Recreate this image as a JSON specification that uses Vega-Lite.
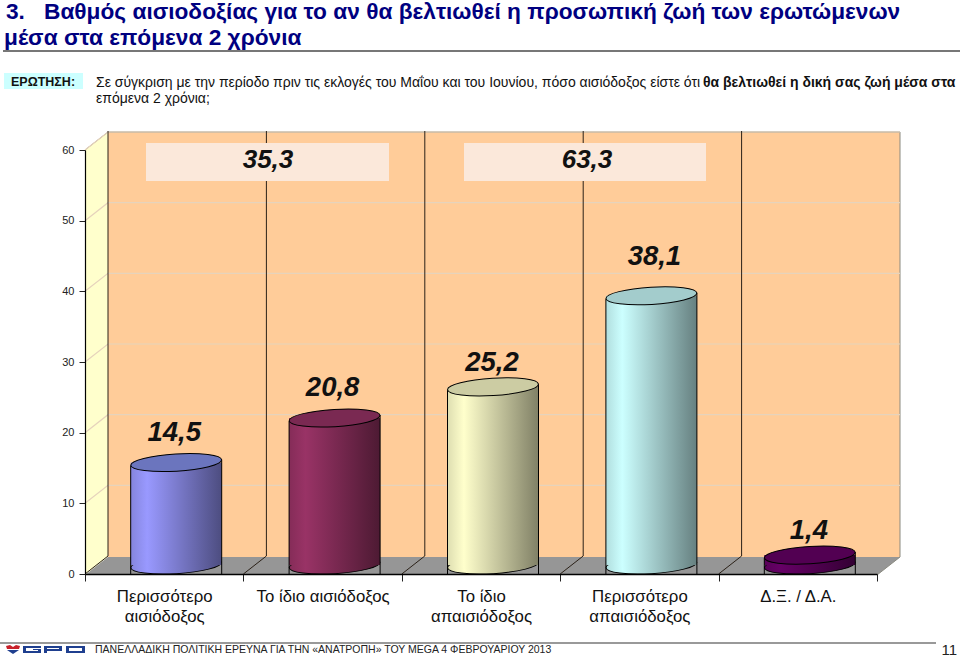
{
"$schema":"https://vega.github.io/schema/vega-lite/v6.json",
"width":792,"height":424,"autosize":"none",
"padding":{"left":85,"top":150,"right":83,"bottom":84},
"background":"white",
"config":{"view":{"stroke":null},"font":"Liberation Sans","point":{"opacity":1},"text":{"font":"Liberation Sans"}},
"datasets":{
"main":[
{"category":"Περισσότερο αισιόδοξος","value":14.5,"label":"14,5"},
{"category":"Το ίδιο αισιόδοξος","value":20.8,"label":"20,8"},
{"category":"Το ίδιο απαισιόδοξος","value":25.2,"label":"25,2"},
{"category":"Περισσότερο απαισιόδοξος","value":38.1,"label":"38,1"},
{"category":"Δ.Ξ. / Δ.Α.","value":1.4,"label":"1,4"}],
"ticks":[{"tick":10},{"tick":20},{"tick":30},{"tick":40},{"tick":50},{"tick":60}]
},
"data":{"values":[{"a":1}]},
"layer":[
{"mark":{"type":"point","shape":"M900,132L900,557L108,557L108,132Z","size":4,"x":-85,"y":-150,"filled":true,"fill":"#FFCC99","opacity":1},"encoding":{}},
{"mark":{"type":"point","shape":"M85,150L108,132L108,557L85,575Z","size":4,"x":-85,"y":-150,"filled":true,"fill":"#FFFFCC","opacity":1},"encoding":{}},
{"mark":{"type":"point","shape":"M85,575L108,557L900,557L877,575Z","size":4,"x":-85,"y":-150,"filled":true,"fill":"#969696","opacity":1},"encoding":{}},
{"mark":{"type":"point","shape":"M85,150L108,132L900,132L900,557L877,575","size":4,"x":-85,"y":-150,"filled":false,"stroke":"#8a8a80","strokeWidth":1,"opacity":1},"encoding":{}},
{"encoding":{
"x":{"field":"category","type":"nominal","sort":null,"title":null,
 "scale":{"type":"band","paddingInner":0,"paddingOuter":0,"domain":["Περισσότερο αισιόδοξος","Το ίδιο αισιόδοξος","Το ίδιο απαισιόδοξος","Περισσότερο απαισιόδοξος","Δ.Ξ. / Δ.Α."]},
 "axis":{"labelAngle":0,"labelFont":"Liberation Sans","labelFontSize":16.8,"labelColor":"#111111","labelLineHeight":20,"labelPadding":7,"tickBand":"extent","tickSize":7,"tickColor":"#222222","domainColor":"#000000","domainWidth":1.5,"labelLimit":200,"zindex":1,
 "labelExpr":"datum.label=='Περισσότερο αισιόδοξος'?['Περισσότερο','αισιόδοξος']:datum.label=='Το ίδιο απαισιόδοξος'?['Το ίδιο','απαισιόδοξος']:datum.label=='Περισσότερο απαισιόδοξος'?['Περισσότερο','απαισιόδοξος']:datum.label"}},
"y":{"field":"value","type":"quantitative","title":null,"scale":{"domain":[0,60],"nice":false,"zero":true},
 "axis":{"values":[0,10,20,30,40,50,60],"labelFont":"Liberation Sans","labelFontSize":11,"labelColor":"#222222","tickSize":6,"tickColor":"#222222","domainColor":"#000000","domainWidth":1.2,"labelPadding":5,"grid":false,"zindex":1}}
},
"layer":[
{"data":{"name":"ticks"},"mark":{"type":"point","shape":"M0,0L23,-18L815,-18","size":4,"filled":false,"stroke":"#E6D3BC","strokeWidth":1.2,"opacity":1},
 "encoding":{"x":{"value":0},"y":{"field":"tick","type":"quantitative"}}},
{"data":{"name":"main"},"mark":{"type":"point","shape":"M0,0L23,-18L23,-443","size":4,"filled":false,"stroke":"#2b2118","strokeWidth":1,"opacity":1},
 "encoding":{"x":{"field":"category","type":"nominal","bandPosition":0},"y":{"value":424}}},
{"data":{"name":"main"},"transform":[{"filter":"datum.category=='Περισσότερο αισιόδοξος'"}],"mark":{"type":"point","shape":"M-1,0A1,0.19,0,1,1,1,0A1,0.19,0,1,1,-1,0Z","size":8281,"angle":-3.5,"xOffset":12,"yOffset":-9,"filled":true,"opacity":1,"stroke":"#000000","strokeWidth":1,"fill":{"gradient":"linear","x1":0,"x2":1,"y1":0,"y2":0,"stops":[{"offset":0,"color":"#8585dd"},{"offset":0.18,"color":"#9999FF"},{"offset":1,"color":"#4d4d80"}]}},"encoding":{"y":{"datum":0}}},
{"data":{"name":"main"},"transform":[{"filter":"datum.category=='Περισσότερο αισιόδοξος'"}],"mark":{"type":"bar","width":91,"xOffset":12,"yOffset":-9,"fill":{"gradient":"linear","x1":0,"x2":1,"y1":0,"y2":0,"stops":[{"offset":0,"color":"#8585dd"},{"offset":0.18,"color":"#9999FF"},{"offset":1,"color":"#4d4d80"}]}}},
{"data":{"name":"main"},"transform":[{"filter":"datum.category=='Το ίδιο αισιόδοξος'"}],"mark":{"type":"point","shape":"M-1,0A1,0.19,0,1,1,1,0A1,0.19,0,1,1,-1,0Z","size":8281,"angle":-3.5,"xOffset":12,"yOffset":-9,"filled":true,"opacity":1,"stroke":"#000000","strokeWidth":1,"fill":{"gradient":"linear","x1":0,"x2":1,"y1":0,"y2":0,"stops":[{"offset":0,"color":"#852c58"},{"offset":0.18,"color":"#993366"},{"offset":1,"color":"#4d1a33"}]}},"encoding":{"y":{"datum":0}}},
{"data":{"name":"main"},"transform":[{"filter":"datum.category=='Το ίδιο αισιόδοξος'"}],"mark":{"type":"bar","width":91,"xOffset":12,"yOffset":-9,"fill":{"gradient":"linear","x1":0,"x2":1,"y1":0,"y2":0,"stops":[{"offset":0,"color":"#852c58"},{"offset":0.18,"color":"#993366"},{"offset":1,"color":"#4d1a33"}]}}},
{"data":{"name":"main"},"transform":[{"filter":"datum.category=='Το ίδιο απαισιόδοξος'"}],"mark":{"type":"point","shape":"M-1,0A1,0.19,0,1,1,1,0A1,0.19,0,1,1,-1,0Z","size":8281,"angle":-3.5,"xOffset":12,"yOffset":-9,"filled":true,"opacity":1,"stroke":"#000000","strokeWidth":1,"fill":{"gradient":"linear","x1":0,"x2":1,"y1":0,"y2":0,"stops":[{"offset":0,"color":"#dedeb1"},{"offset":0.18,"color":"#FFFFCC"},{"offset":1,"color":"#808066"}]}},"encoding":{"y":{"datum":0}}},
{"data":{"name":"main"},"transform":[{"filter":"datum.category=='Το ίδιο απαισιόδοξος'"}],"mark":{"type":"bar","width":91,"xOffset":12,"yOffset":-9,"fill":{"gradient":"linear","x1":0,"x2":1,"y1":0,"y2":0,"stops":[{"offset":0,"color":"#dedeb1"},{"offset":0.18,"color":"#FFFFCC"},{"offset":1,"color":"#808066"}]}}},
{"data":{"name":"main"},"transform":[{"filter":"datum.category=='Περισσότερο απαισιόδοξος'"}],"mark":{"type":"point","shape":"M-1,0A1,0.19,0,1,1,1,0A1,0.19,0,1,1,-1,0Z","size":8281,"angle":-3.5,"xOffset":12,"yOffset":-9,"filled":true,"opacity":1,"stroke":"#000000","strokeWidth":1,"fill":{"gradient":"linear","x1":0,"x2":1,"y1":0,"y2":0,"stops":[{"offset":0,"color":"#b1dede"},{"offset":0.18,"color":"#CCFFFF"},{"offset":1,"color":"#668080"}]}},"encoding":{"y":{"datum":0}}},
{"data":{"name":"main"},"transform":[{"filter":"datum.category=='Περισσότερο απαισιόδοξος'"}],"mark":{"type":"bar","width":91,"xOffset":12,"yOffset":-9,"fill":{"gradient":"linear","x1":0,"x2":1,"y1":0,"y2":0,"stops":[{"offset":0,"color":"#b1dede"},{"offset":0.18,"color":"#CCFFFF"},{"offset":1,"color":"#668080"}]}}},
{"data":{"name":"main"},"transform":[{"filter":"datum.category=='Δ.Ξ. / Δ.Α.'"}],"mark":{"type":"point","shape":"M-1,0A1,0.19,0,1,1,1,0A1,0.19,0,1,1,-1,0Z","size":8281,"angle":-3.5,"xOffset":12,"yOffset":-9,"filled":true,"opacity":1,"stroke":"#000000","strokeWidth":1,"fill":{"gradient":"linear","x1":0,"x2":1,"y1":0,"y2":0,"stops":[{"offset":0,"color":"#580058"},{"offset":0.18,"color":"#660066"},{"offset":1,"color":"#330033"}]}},"encoding":{"y":{"datum":0}}},
{"data":{"name":"main"},"transform":[{"filter":"datum.category=='Δ.Ξ. / Δ.Α.'"}],"mark":{"type":"bar","width":91,"xOffset":12,"yOffset":-9,"fill":{"gradient":"linear","x1":0,"x2":1,"y1":0,"y2":0,"stops":[{"offset":0,"color":"#580058"},{"offset":0.18,"color":"#660066"},{"offset":1,"color":"#330033"}]}}},
{"data":{"name":"main"},"mark":{"type":"rule","xOffset":-33.5,"yOffset":-6,"stroke":"#000000","strokeWidth":1},"encoding":{"y2":{"datum":0}}},
{"data":{"name":"main"},"mark":{"type":"rule","xOffset":57.5,"yOffset":-12,"stroke":"#000000","strokeWidth":1},"encoding":{"y2":{"datum":0}}},
{"data":{"name":"main"},"mark":{"type":"point","shape":"M-1,0A1,0.19,0,1,1,1,0A1,0.19,0,1,1,-1,0Z","size":8281,"angle":-3.5,"xOffset":12,"yOffset":-9,"filled":true,"opacity":1,"stroke":"#000000","strokeWidth":1},
 "encoding":{"color":{"field":"category","type":"nominal","legend":null,"scale":{"domain":["Περισσότερο αισιόδοξος","Το ίδιο αισιόδοξος","Το ίδιο απαισιόδοξος","Περισσότερο απαισιόδοξος","Δ.Ξ. / Δ.Α."],"range":["#6B75BE","#7A2952","#CCCCA3","#A3CCCC","#520052"]}}}},
{"data":{"name":"main"},"transform":[{"filter":"datum.label=='14,5'||datum.label=='20,8'"}],"mark":{"type":"text","font":"Liberation Sans","fontStyle":"italic","fontWeight":"bold","fontSize":27.5,"baseline":"middle","dx":10,"dy":-39,"color":"#111111"},"encoding":{"text":{"field":"label"}}},
{"data":{"name":"main"},"transform":[{"filter":"datum.label=='25,2'||datum.label=='1,4'"}],"mark":{"type":"text","font":"Liberation Sans","fontStyle":"italic","fontWeight":"bold","fontSize":27.5,"baseline":"middle","color":"#111111","dx":11,"dy":-33},"encoding":{"text":{"field":"label"}}},
{"data":{"name":"main"},"transform":[{"filter":"datum.label=='38,1'"}],"mark":{"type":"text","font":"Liberation Sans","fontStyle":"italic","fontWeight":"bold","fontSize":27.5,"baseline":"middle","color":"#111111","dx":15,"dy":-48},"encoding":{"text":{"field":"label"}}}
]},
{"mark":{"type":"rect","x":61,"x2":304,"y":-7,"y2":31,"fill":"#FBE8DA"},"encoding":{}},
{"mark":{"type":"rect","x":379,"x2":621,"y":-7,"y2":31,"fill":"#FBE8DA"},"encoding":{}},
{"data":{"values":[{"t":"35,3"}]},"mark":{"type":"text","x":183,"y":10,"font":"Liberation Sans","fontStyle":"italic","fontWeight":"bold","fontSize":26,"baseline":"middle","align":"center","color":"#111111"},"encoding":{"text":{"field":"t"}}},
{"data":{"values":[{"t":"63,3"}]},"mark":{"type":"text","x":502,"y":10,"font":"Liberation Sans","fontStyle":"italic","fontWeight":"bold","fontSize":26,"baseline":"middle","align":"center","color":"#111111"},"encoding":{"text":{"field":"t"}}},
{"data":{"values":[{"t":"3."}]},"mark":{"type":"text","x":-79,"y":-131,"font":"Liberation Sans","fontSize":22.7,"fontWeight":"bold","align":"left","baseline":"alphabetic","color":"#000080"},"encoding":{"text":{"field":"t"}}},
{"data":{"values":[{"t":"Βαθμός αισιοδοξίας για το αν θα βελτιωθεί η προσωπική ζωή των ερωτώμενων"}]},"mark":{"type":"text","x":-41,"y":-131,"font":"Liberation Sans","fontSize":22.7,"fontWeight":"bold","align":"left","baseline":"alphabetic","color":"#000080"},"encoding":{"text":{"field":"t"}}},
{"data":{"values":[{"t":"μέσα στα επόμενα 2 χρόνια"}]},"mark":{"type":"text","x":-81,"y":-105,"font":"Liberation Sans","fontSize":22.7,"fontWeight":"bold","align":"left","baseline":"alphabetic","color":"#000080"},"encoding":{"text":{"field":"t"}}},
{"mark":{"type":"point","shape":"M3,51L960,51","size":4,"x":-85,"y":-150,"filled":false,"stroke":"#777777","strokeWidth":2,"opacity":1},"encoding":{}},
{"mark":{"type":"rect","x":-81,"x2":-2,"y":-77,"y2":-61,"fill":"#CCFFFF"},"encoding":{}},
{"data":{"values":[{"t":"ΕΡΩΤΗΣΗ:"}]},"mark":{"type":"text","x":-74,"y":-64,"font":"Liberation Sans","fontSize":12.5,"fontWeight":"bold","align":"left","baseline":"alphabetic","color":"#111111"},"encoding":{"text":{"field":"t"}}},
{"data":{"values":[{"t":"Σε σύγκριση με την περίοδο πριν τις εκλογές του Μαΐου και του Ιουνίου, πόσο αισιόδοξος είστε ότι"}]},"mark":{"type":"text","x":11,"y":-63,"font":"Liberation Sans","fontSize":14,"align":"left","baseline":"alphabetic","color":"#111111"},"encoding":{"text":{"field":"t"}}},
{"data":{"values":[{"t":"θα βελτιωθεί η δική σας ζωή μέσα στα"}]},"mark":{"type":"text","x":618,"y":-63,"font":"Liberation Sans","fontSize":14,"fontWeight":"bold","align":"left","baseline":"alphabetic","color":"#111111"},"encoding":{"text":{"field":"t"}}},
{"data":{"values":[{"t":"επόμενα 2 χρόνια;"}]},"mark":{"type":"text","x":11,"y":-47,"font":"Liberation Sans","fontSize":14,"align":"left","baseline":"alphabetic","color":"#111111"},"encoding":{"text":{"field":"t"}}},
{"mark":{"type":"point","shape":"M0,643L936,643","size":4,"x":-85,"y":-150,"filled":false,"stroke":"#777777","strokeWidth":1.5,"opacity":1},"encoding":{}},
{"mark":{"type":"point","shape":"M6,646L10,645L13,647L16,645L20,646L19,649L7,649Z","size":4,"x":-85,"y":-150,"filled":true,"fill":"#C8202A","opacity":1},"encoding":{}},
{"mark":{"type":"point","shape":"M7,650L19,650L13,654Z","size":4,"x":-85,"y":-150,"filled":true,"fill":"#1F3F8F","opacity":1},"encoding":{}},
{"mark":{"type":"point","shape":"M23,646L41,646L41,648L26,648L26,651L38,651L38,650L33,650L33,649L41,649L41,653L23,653ZM44,646L62,646L62,651L47,651L47,653L44,653ZM47,648L47,649L59,649L59,648ZM66,646L85,646L85,653L66,653ZM69,648L69,651L82,651L82,648Z","size":4,"x":-85,"y":-150,"filled":true,"fill":"#1F3F8F","opacity":1},"encoding":{}},
{"data":{"values":[{"t":"ΠΑΝΕΛΛΑΔΙΚΗ ΠΟΛΙΤΙΚΗ ΕΡΕΥΝΑ ΓΙΑ ΤΗΝ «ΑΝΑΤΡΟΠΗ» ΤΟΥ MEGA  4  ΦΕΒΡΟΥΑΡΙΟΥ  2013"}]},"mark":{"type":"text","x":10,"y":503,"font":"Liberation Sans","fontSize":10.5,"align":"left","baseline":"alphabetic","color":"#222222"},"encoding":{"text":{"field":"t"}}},
{"data":{"values":[{"t":"11"}]},"mark":{"type":"text","x":872,"y":505,"font":"Liberation Sans","fontSize":15,"align":"right","baseline":"alphabetic","color":"#222222"},"encoding":{"text":{"field":"t"}}}
]}
